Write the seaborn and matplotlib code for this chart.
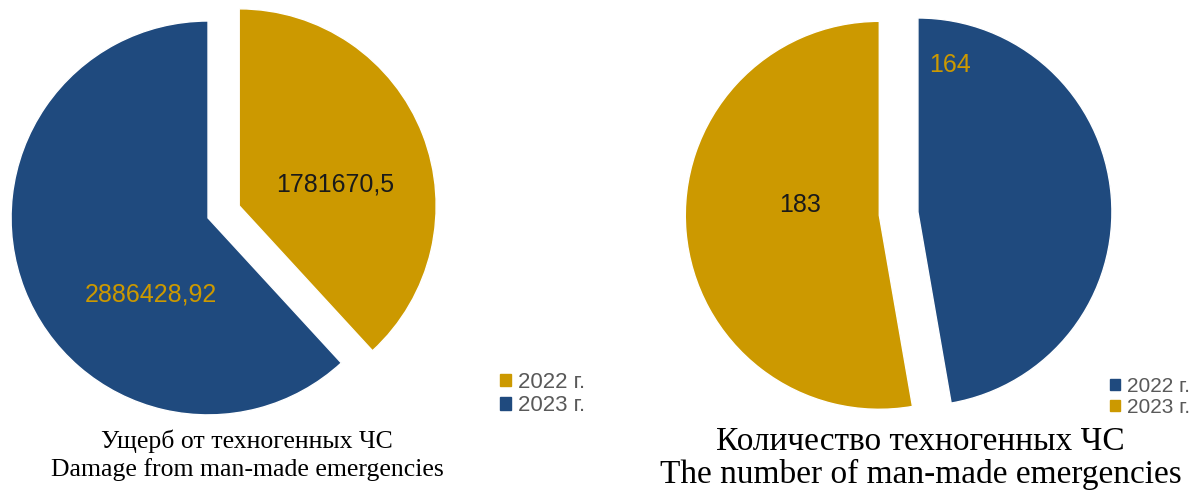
import matplotlib.pyplot as plt
import seaborn as sns
from matplotlib.patches import Patch

# data
years = ['2022 г.', '2023 г.']
damage = [1781670.5, 2886428.92]          # 2022, 2023
damage_labels = ['1781670,5', '2886428,92']
count = [164, 183]                          # 2022, 2023
count_labels = ['164', '183']

gold = '#CC9900'
navy = '#1F4A7E'

sns.set_theme(style='white')
plt.rcParams['font.family'] = ['Liberation Sans', 'DejaVu Sans']

fig = plt.figure(figsize=(12, 4.9), dpi=100)

# left pie: damage (2022 gold, 2023 navy)
ax1 = fig.add_axes([-0.04, 0.0327, 0.4267, 1.045])
w1, t1 = ax1.pie(damage, colors=[gold, navy], startangle=90, counterclock=False,
                 explode=[0.17, 0], labels=damage_labels, labeldistance=0.5,
                 textprops=dict(fontsize=18))
t1[0].set_color('#1a1a1a')
t1[0].set_position((0.645, 0.168))
t1[1].set_color(gold)
t1[1].set_position((-0.29, -0.39))
ax1.set_xlim(-1.3, 1.3)
ax1.set_ylim(-1.3, 1.3)
ax1.set_aspect('equal')
ax1.axis('off')

# right pie: count (2022 navy, 2023 gold)
ax2 = fig.add_axes([0.5548, 0.0527, 0.4203, 1.0294])
w2, t2 = ax2.pie(count, colors=[navy, gold], startangle=90, counterclock=False,
                 explode=[0, 0.2], labels=count_labels, labeldistance=0.5,
                 textprops=dict(fontsize=18))
t2[0].set_color(gold)
t2[0].set_position((0.165, 0.758))
t2[1].set_color('#1a1a1a')
t2[1].set_position((-0.608, 0.036))
ax2.set_xlim(-1.3, 1.3)
ax2.set_ylim(-1.3, 1.3)
ax2.set_aspect('equal')
ax2.axis('off')

for t in list(t1) + list(t2):
    t.set_ha('center')
    t.set_va('center')

# legends
leg_kw = dict(frameon=False, labelcolor='#595959', handlelength=0.5,
              handleheight=0.5, handletextpad=0.35, labelspacing=0.1, borderpad=0)
fig.legend(handles=[Patch(color=gold), Patch(color=navy)], labels=years, fontsize=16,
           loc='center left', bbox_to_anchor=(0.407, 0.196), **leg_kw)
fig.legend(handles=[Patch(color=navy), Patch(color=gold)], labels=years, fontsize=15,
           loc='center left', bbox_to_anchor=(0.916, 0.190), **leg_kw)

# captions
serif = ['Liberation Serif', 'DejaVu Serif']
fig.text(0.206, 1 - 441 / 490, 'Ущерб от техногенных ЧС', ha='center', va='center',
         fontsize=18.5, family=serif, color='black')
fig.text(0.206, 1 - 470 / 490, 'Damage from man-made emergencies', ha='center', va='center',
         fontsize=18.5, family=serif, color='black')
fig.text(0.767, 1 - 442 / 490, 'Количество техногенных ЧС', ha='center', va='center',
         fontsize=24, family=serif, color='black')
fig.text(0.767, 1 - 474 / 490, 'The number of man-made emergencies', ha='center', va='center',
         fontsize=24, family=serif, color='black')

fig.savefig('out.png', dpi=100, facecolor='white')
